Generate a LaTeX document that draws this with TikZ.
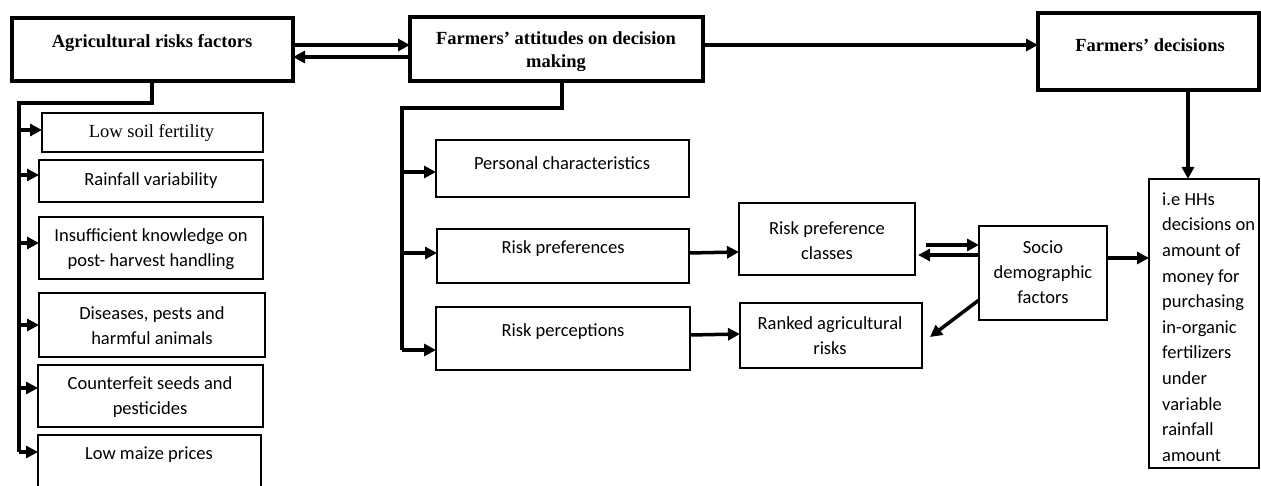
\documentclass[tikz,border=0pt]{standalone}
\usepackage{fontspec}
\setmainfont{Liberation Serif}
\newfontfamily\calfont{Carlito}
\usetikzlibrary{arrows.meta}
\begin{document}
\begin{tikzpicture}[x=1pt,y=-1pt,
  thickbox/.style={draw, line width=3.5pt, inner sep=0pt, outer sep=0pt, anchor=north west},
  thinbox/.style={draw, line width=1.5pt, inner sep=0pt, outer sep=0pt, anchor=north west},
  ttxt/.style={font=\fontsize{18.5}{23}\selectfont\bfseries, align=center, inner sep=0pt},
  stxt/.style={font=\fontsize{18.5}{23}\selectfont, align=center, inner sep=0pt},
  ctxt/.style={font=\calfont\fontsize{18.5}{25}\selectfont, align=center, inner sep=0pt},
  ltxt/.style={font=\calfont\fontsize{18.5}{25.6}\selectfont, align=left, inner sep=0pt},
  conn/.style={line width=3.5pt},
  arr/.style={line width=3.5pt, -{Triangle[length=12pt,width=12pt]}}
]
\useasboundingbox (0,0) rectangle (1261,486);
% main boxes
\node[thickbox, minimum width=281pt, minimum height=63pt] (b1) at (12,18) {};
\node[thickbox, minimum width=293pt, minimum height=64pt] (b2) at (410,17) {};
\node[thickbox, minimum width=221pt, minimum height=77pt] (b3) at (1038,13) {};
\node[ttxt] (b1t) at (152,43) {Agricultural risks factors};
\node[ttxt] (b2t) at (556,51.5) {Farmers’ attitudes on decision\\making};
\node[ttxt] (b3t) at (1150,45) {Farmers’ decisions};
% left column
\node[thinbox, minimum width=221pt, minimum height=39pt] (l1) at (42,113) {};
\node[thinbox, minimum width=224pt, minimum height=42pt] (l2) at (39,160) {};
\node[thinbox, minimum width=224pt, minimum height=62pt] (l3) at (39,217) {};
\node[thinbox, minimum width=226pt, minimum height=64pt] (l4) at (39,293) {};
\node[thinbox, minimum width=225pt, minimum height=62pt] (l5) at (38,365) {};
\node[thinbox, minimum width=223pt, minimum height=70pt] (l6) at (38,435) {};
\node[stxt] (l1t) at (151.5,133) {Low soil fertility};
\node[ctxt] (l2t) at (151,181) {Rainfall variability};
\node[ctxt] (l3t) at (151,249.5) {Insufficient knowledge on\\post- harvest handling};
\node[ctxt] (l4t) at (152,325.5) {Diseases, pests and\\harmful animals};
\node[ctxt] (l5t) at (150,397.5) {Counterfeit seeds and\\pesticides};
\node[ctxt] (l6t) at (149,455) {Low maize prices};
% middle column
\node[thinbox, minimum width=253pt, minimum height=57pt] (m1) at (436,140) {};
\node[thinbox, minimum width=252pt, minimum height=54pt] (m2) at (437,229) {};
\node[thinbox, minimum width=254pt, minimum height=63pt] (m3) at (436,307) {};
\node[ctxt] (m1t) at (562,163) {Personal characteristics};
\node[ctxt] (m2t) at (563,249) {Risk preferences};
\node[ctxt] (m3t) at (563,332) {Risk perceptions};
\node[thinbox, minimum width=176pt, minimum height=72pt] (rpc) at (739,203) {};
\node[thinbox, minimum width=182pt, minimum height=65pt] (rank) at (740,303) {};
\node[ctxt] (rpct) at (827,240.5) {Risk preference\\classes};
\node[ctxt] (rankt) at (830,336) {Ranked agricultural\\risks};
\node[thinbox, minimum width=128pt, minimum height=94pt] (soc) at (979,226) {};
\node[ctxt] (soct) at (1043,272) {Socio\\demographic\\factors};
\node[thinbox, minimum width=110pt, minimum height=289pt] (hh) at (1149,179) {};
\node[ltxt, anchor=west] (hht) at (1162,327) {i.e HHs\\decisions on\\amount of\\money for\\purchasing\\in-organic\\fertilizers\\under\\variable\\rainfall\\amount};
% connectors top row
\draw[arr] (b1.east |- 0,45) -- (b2.west |- 0,45);
\draw[arr] (b2.west |- 0,57) -- (b1.east |- 0,57);
\draw[arr] (b2.east |- 0,45) -- (b3.west |- 0,45);
\draw[arr] (b3.south -| 1188,0) -- (hh.north -| 1188,0);
% left tree
\coordinate (lv) at (19,452);
\draw[conn, line join=miter] (b1.south -| 152,0) -- (152,103) -- (19,103) -- (lv);
\draw[arr] (19,130) -- (l1.west |- 0,130);
\draw[arr] (19,175) -- (l2.west |- 0,175);
\draw[arr] (19,243) -- (l3.west |- 0,243);
\draw[arr] (19,325) -- (l4.west |- 0,325);
\draw[arr] (19,388) -- (l5.west |- 0,388);
\draw[arr] (lv) -- (l6.west |- 0,452);
% middle tree
\coordinate (mv) at (402,350);
\draw[conn, line join=miter] (b2.south -| 562,0) -- (562,108) -- (402,108) -- (mv);
\draw[arr] (402,172) -- (m1.west |- 0,172);
\draw[arr] (402,253) -- (m2.west |- 0,253);
\draw[arr] (mv) -- (m3.west |- 0,350);
% right side
\draw[arr] (m2.east |- 0,253) -- (rpc.west |- 0,252);
\draw[arr] (m3.east |- 0,335) -- (rank.west |- 0,334);
\draw[arr] (926,245) -- (soc.west |- 0,245);
\draw[arr] (soc.west |- 0,255) -- (918,255);
\draw[arr] (soc.west |- 0,300) -- (930,337);
\draw[arr] (soc.east |- 0,258) -- (hh.west |- 0,258);
\end{tikzpicture}
\end{document}
